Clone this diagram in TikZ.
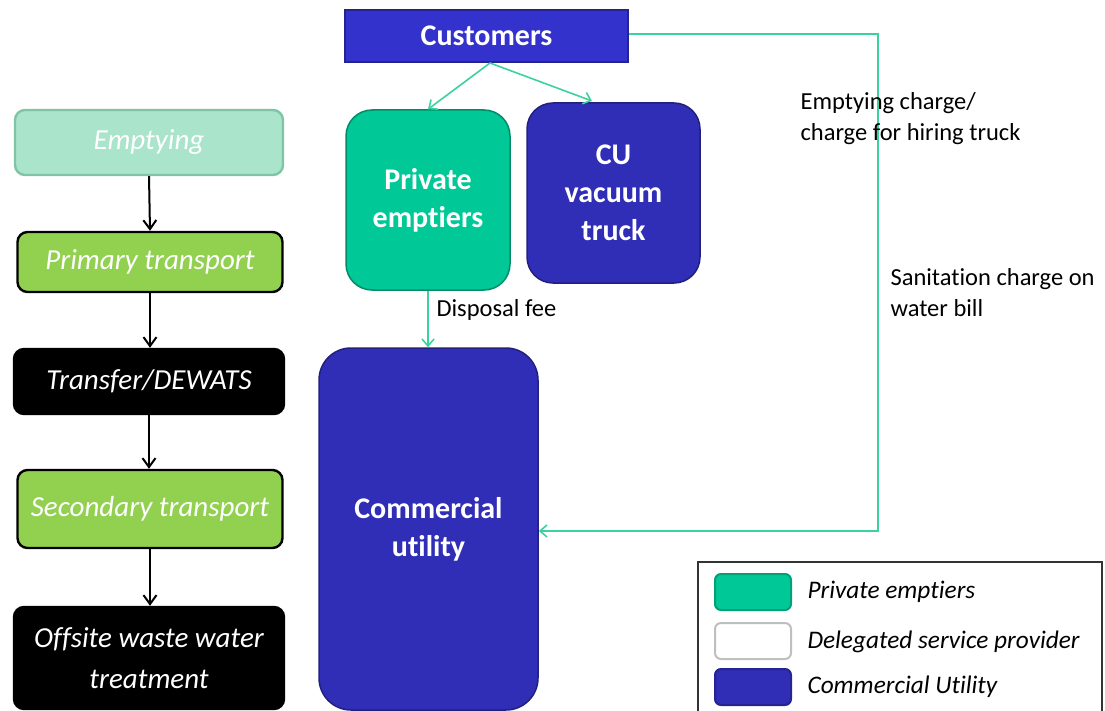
\documentclass[tikz,border=0pt]{standalone}
\usepackage{fontspec}
\setmainfont{Carlito}[Ligatures=NoCommon]
\usetikzlibrary{arrows.meta}
\definecolor{teal1}{RGB}{0,200,150}
\definecolor{tealln}{RGB}{60,210,160}
\definecolor{blue1}{RGB}{48,45,182}
\definecolor{blue2}{RGB}{52,50,204}
\definecolor{mint}{RGB}{169,228,203}
\definecolor{mintln}{RGB}{128,196,166}
\definecolor{green1}{RGB}{146,208,80}
\begin{document}
\begin{tikzpicture}[x=1pt,y=-1pt,
  stage/.style={draw=black,line width=2.4pt,rounded corners=10pt,minimum width=268pt,text=white,align=center,font=\fontsize{29}{41}\selectfont\itshape},
  actor/.style={draw=#1!70!black,line width=1.5pt,fill=#1,text=white,align=center,font=\fontsize{30}{38}\selectfont\bfseries},
  flow/.style={tealln,line width=1.6pt,-{Straight Barb[length=7pt,width=12pt]}},
  blk/.style={black,line width=2pt,-{Straight Barb[length=9pt,width=13pt]}},
  lbl/.style={anchor=west,align=left,font=\fontsize{24.5}{31}\selectfont},
  swatch/.style={draw=#1,line width=2pt,rounded corners=6pt,minimum width=76pt,minimum height=36pt},
  leg/.style={anchor=west,font=\fontsize{25.3}{30}\selectfont\itshape}]
\useasboundingbox (0,0) rectangle (1105,711);
% left column
\node[stage,draw=mintln,fill=mint,minimum height=65pt] (emp) at (149,142.5) {Emptying};
\node[stage,fill=green1,minimum width=265pt,minimum height=60pt] (prim) at (150,262) {Primary transport};
\node[stage,fill=black,minimum width=270pt,minimum height=65pt] (trans) at (149,381.5) {Transfer/DEWATS};
\node[stage,fill=green1,minimum width=265pt,minimum height=78pt] (sec) at (150,509) {Secondary transport};
\node[stage,fill=black,minimum width=270pt,minimum height=102pt] (off) at (149,658) {Offsite waste water\\treatment};
\draw[blk] (emp.south) -- (prim.north);
\draw[blk] (prim.south) -- (prim.south |- trans.north);
\draw[blk] (trans.south) -- (trans.south |- sec.north);
\draw[blk] (sec.south) -- (sec.south |- off.north);
% actors
\node[actor=blue2,minimum width=283pt,minimum height=52pt] (cust) at (486.5,36) {Customers};
\node[actor=teal1,rounded corners=26pt,minimum width=164pt,minimum height=180pt] (pe) at (428,200) {Private\\emptiers};
\node[actor=blue1,rounded corners=26pt,minimum width=173pt,minimum height=180pt] (cu) at (613.5,193) {CU\\vacuum\\truck};
\node[actor=blue1,rounded corners=32pt,minimum width=219pt,minimum height=362pt] (comm) at (428.5,529) {Commercial\\utility};
% flows
\coordinate (cs) at (490,63);
\draw[flow] (cs) -- (pe.north);
\draw[flow] (cs) -- (592,101);
\draw[flow] (pe.south) -- (pe.south |- comm.north);
\coordinate (corner) at (878,531);
\draw[flow] ([yshift=2pt]cust.east) -| (corner) -- (comm.east |- corner);
% labels
\node[lbl] (l1) at (797,118.5) {Emptying charge/\\charge for hiring truck};
\node[lbl] (l2) at (887,292.5) {Sanitation charge on\\water bill};
\node[lbl] (l3) at (433,310) {Disposal fee};
% legend
\draw[line width=1.3pt,black!80] (698,712) -- (698,562) -- (1102,562) -- (1102,712);
\node[swatch=teal1!80!black,fill=teal1] (s1) at (753,592) {};
\node[swatch=black!25,fill=white] (s2) at (753,641) {};
\node[swatch=blue1!80!black,fill=blue1] (s3) at (753,687) {};
\node[leg] (t1) at (804,592) {Private emptiers};
\node[leg] (t2) at (804,642) {Delegated service provider};
\node[leg] (t3) at (804,687) {Commercial Utility};
\end{tikzpicture}
\end{document}
